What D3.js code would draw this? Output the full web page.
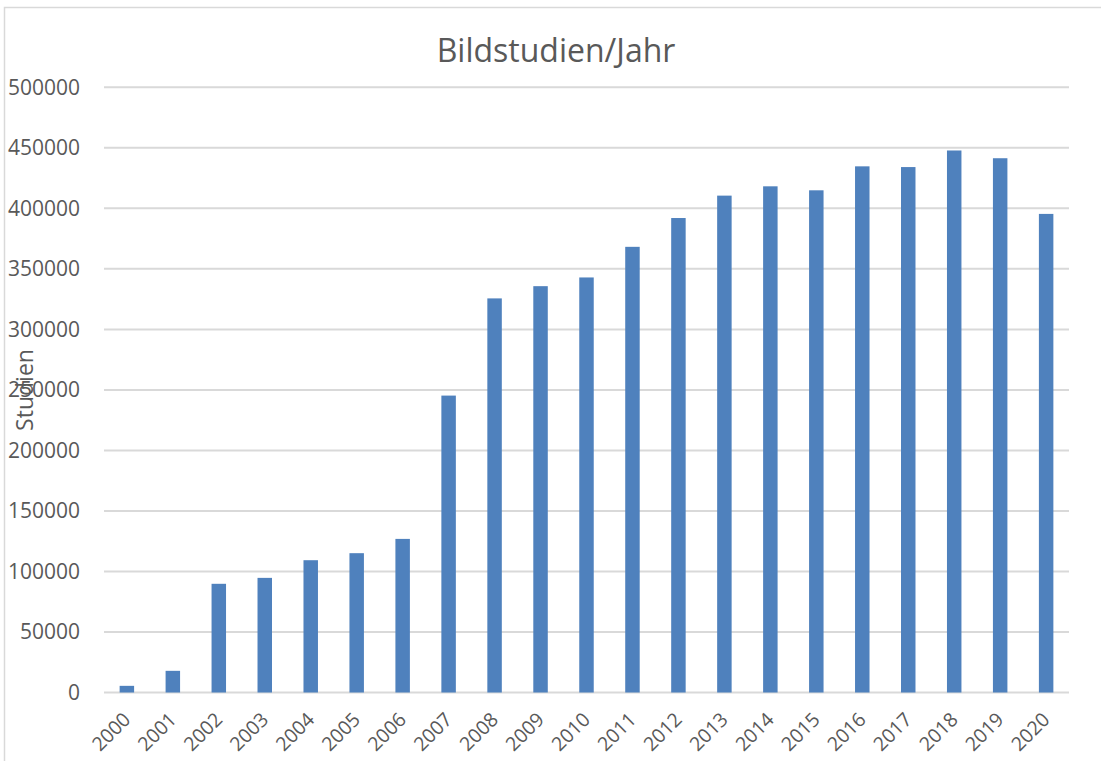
<!DOCTYPE html>
<html>
<head>
<meta charset="utf-8">
<title>Bildstudien/Jahr</title>
<script src="https://cdn.jsdelivr.net/npm/d3@7"></script>
<style>
body { margin: 0; background: #fff; }
text { font-family: "Open Sans", sans-serif; fill: #595959; }
</style>
</head>
<body>
<svg width="1101" height="761"></svg>
<script>

var jahre = ["2000","2001","2002","2003","2004","2005","2006","2007","2008","2009","2010",
  "2011","2012","2013","2014","2015","2016","2017","2018","2019","2020"];
var studien = [5500, 17900, 89800, 94700, 109300, 115100, 126900, 245300, 325600, 335700, 342900,
  368200, 392000, 410500, 418200, 414900, 434700, 434100, 447800, 441400, 395400];
var yTicks = [0, 50000, 100000, 150000, 200000, 250000, 300000, 350000, 400000, 450000, 500000];

var svg = d3.select("svg");

// outer frame, goes past right and bottom edge
svg.append("rect")
  .attr("x", 4.5).attr("y", 7.5)
  .attr("width", 1110).attr("height", 770)
  .attr("fill", "none")
  .attr("stroke", "#d9d9d9")
  .attr("stroke-width", 1.5);

var x = d3.scaleBand().domain(jahre).range([104, 1069]).paddingInner(0.685).paddingOuter(0.34);
var y = d3.scaleLinear().domain([0, 500000]).range([692.5, 87.3]);

// gridlines
svg.append("g").selectAll("line")
  .data(yTicks)
  .enter().append("line")
  .attr("x1", 104).attr("x2", 1069)
  .attr("y1", function(d) { return y(d); })
  .attr("y2", function(d) { return y(d); })
  .attr("stroke", "#d9d9d9")
  .attr("stroke-width", 2);

// bars
svg.append("g").selectAll("rect")
  .data(studien)
  .enter().append("rect")
  .attr("x", function(d, i) { return x(jahre[i]); })
  .attr("width", x.bandwidth())
  .attr("y", function(d) { return y(d); })
  .attr("height", function(d) { return y(0) - y(d); })
  .attr("fill", "#4f81bd");

// y tick labels
svg.append("g").selectAll("text")
  .data(yTicks)
  .enter().append("text")
  .attr("x", 80)
  .attr("y", function(d) { return y(d); })
  .attr("dy", "0.35em")
  .attr("text-anchor", "end")
  .style("font-size", "21px")
  .text(function(d) { return d; });

// x labels, rotated
svg.append("g").selectAll("text")
  .data(jahre)
  .enter().append("text")
  .attr("transform", function(d) {
    return "translate(" + (x(d) + x.bandwidth() / 2) + ",716) rotate(-45)";
  })
  .attr("text-anchor", "end")
  .attr("dy", "0.35em")
  .style("font-size", "19.5px")
  .text(function(d) { return d; });

// title
svg.append("text")
  .attr("x", 556).attr("y", 62)
  .attr("text-anchor", "middle")
  .style("font-size", "32px")
  .text("Bildstudien/Jahr");

// y axis title
svg.append("text")
  .attr("transform", "translate(33,390) rotate(-90)")
  .attr("text-anchor", "middle")
  .style("font-size", "23px")
  .text("Studien");

</script>
</body>
</html>
